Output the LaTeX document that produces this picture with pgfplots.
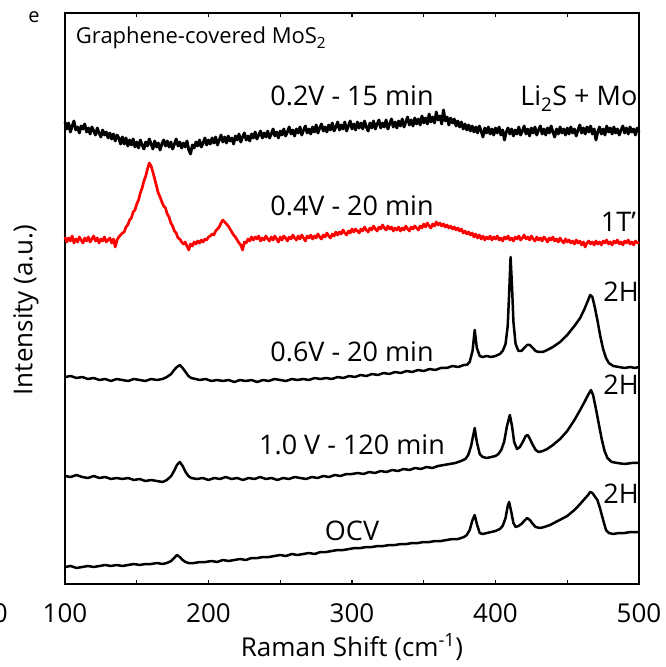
\documentclass[border=0pt]{standalone}
\usepackage{fontspec}
\setmainfont{Open Sans}
\usepackage{pgfplots}
\pgfplotsset{compat=1.18}
\definecolor{spred}{RGB}{255,0,0}
\newcommand{\lab}{\fontsize{27}{32}\selectfont}
\begin{document}
\begin{tikzpicture}[x=1pt,y=1pt]
\useasboundingbox (-65,-83) rectangle (601,584);
\begin{axis}[at={(0,0)}, anchor=south west, width=574pt, height=571pt, scale only axis,
  xmin=100, xmax=500, ymin=0, ymax=571,
  xtick={100,200,300,400,500}, minor xtick={150,250,350,450}, ytick=\empty,
  tick align=inside, major tick length=4pt, minor tick length=4pt,
  every tick/.style={line width=1.4pt, black},
  axis line style={line width=1.8pt},
  /pgf/number format/assume math mode=true,
  xticklabel style={font=\fontsize{26}{30}\selectfont, anchor=base, yshift=-38pt},
  every axis plot/.append style={line width=2.5pt, line join=round, mark=none},
  clip=false]
% 0.2V - 15 min
\addplot[black, line width=2.9pt] table {
100 462
101.25 455
102.5 461
103.75 452
105 458
106.25 463
107.5 454
108.75 457
110 451
111.25 458
112.5 455
113.75 460
115 452
116.25 456
117.5 450
118.75 457
120 453
121.25 449
122.5 456
123.75 451
125 447
126.25 454
127.5 449
128.75 452
130 446
131.25 451
132.5 445
133.75 450
135 443
136.25 449
137.5 446
138.75 440
140 447
141.25 440
142.5 446
143.75 438
145 444
146.25 439
147.5 445
148.75 437
150 442
151.25 436
152.5 444
153.75 439
155 435
156.25 442
157.5 438
158.75 445
160 440
161.25 435
162.5 443
163.75 437
165 441
166.25 434
167.5 440
168.75 444
170 438
171.25 443
172.5 437
173.75 442
175 435
176.25 440
177.5 445
178.75 438
180 442
181.25 436
182.5 441
183.75 437
185 443
186.25 434
187.5 430
188.75 439
190 436
191.25 442
192.5 438
193.75 444
195 437
196.25 441
197.5 446
198.75 439
200 444
201.25 440
202.5 446
203.75 441
205 447
206.25 439
207.5 444
208.75 449
210 442
211.25 447
212.5 441
213.75 448
215 443
216.25 446
217.5 440
218.75 448
220 444
221.25 450
222.5 442
223.75 447
225 451
226.25 444
227.5 448
228.75 443
230 450
231.25 446
232.5 452
233.75 445
235 449
236.25 453
237.5 446
238.75 451
240 447
241.25 453
242.5 446
243.75 450
245 455
246.25 448
247.5 452
248.75 446
250 453
251.25 449
252.5 455
253.75 448
255 452
256.25 457
257.5 450
258.75 454
260 448
261.25 455
262.5 451
263.75 457
265 449
266.25 454
267.5 458
268.75 451
270 455
271.25 450
272.5 457
273.75 452
275 459
276.25 451
277.5 456
278.75 460
280 453
281.25 457
282.5 452
283.75 459
285 454
286.25 461
287.5 453
288.75 457
290 462
291.25 454
292.5 459
293.75 455
295 462
296.25 453
297.5 458
298.75 463
300 455
301.25 460
302.5 454
303.75 462
305 456
306.25 461
307.5 455
308.75 463
310 457
311.25 453
312.5 461
313.75 456
315 463
316.25 455
317.5 460
318.75 464
320 456
321.25 461
322.5 457
323.75 464
325 455
326.25 460
327.5 465
328.75 457
330 462
331.25 456
332.5 463
333.75 458
335 465
336.25 457
337.5 462
338.75 467
340 459
341.25 464
342.5 458
343.75 466
345 460
346.25 465
347.5 459
348.75 468
350 461
351.25 466
352.5 460
353.75 470
355 462
356.25 467
357.5 461
358.75 472
360 464
361.25 468
362.5 460
363.75 474
365 463
366.25 467
367.5 459
368.75 466
370 461
371.25 465
372.5 458
373.75 463
375 457
376.25 462
377.5 455
378.75 460
380 454
381.25 459
382.5 453
383.75 458
385 452
386.25 457
387.5 451
388.75 458
390 453
391.25 447
392.5 456
393.75 451
395 457
396.25 450
397.5 455
398.75 449
400 456
401.25 451
402.5 457
403.75 449
405 454
406.25 444
407.5 452
408.75 456
410 450
411.25 455
412.5 448
413.75 454
415 450
416.25 457
417.5 449
418.75 453
420 458
421.25 450
422.5 455
423.75 448
425 456
426.25 451
427.5 457
428.75 449
430 454
431.25 458
432.5 450
433.75 455
435 449
436.25 456
437.5 451
438.75 458
440 452
441.25 447
442.5 455
443.75 450
445 457
446.25 451
447.5 455
448.75 449
450 456
451.25 450
452.5 457
453.75 451
455 455
456.25 448
457.5 454
458.75 459
460 451
461.25 456
462.5 450
463.75 457
465 452
466.25 458
467.5 450
468.75 455
470 444
471.25 452
472.5 457
473.75 450
475 455
476.25 449
477.5 458
478.75 452
480 456
481.25 450
482.5 457
483.75 451
485 455
486.25 449
487.5 454
488.75 458
490 451
491.25 456
492.5 450
493.75 457
495 452
496.25 455
497.5 449
498.75 456
500 452
};
% 0.4V - 20 min
\addplot[spred, line width=2.7pt] table {
100 347
101.25 342
102.5 346
103.75 343
105 348
106.25 341
107.5 345
108.75 342
110 347
111.25 344
112.5 341
113.75 346
115 343
116.25 347
117.5 342
118.75 345
120 348
121.25 343
122.5 346
123.75 341
125 345
126.25 343
127.5 347
128.75 342
130 344
131.25 346
132.5 341
133.75 345
135 337
136.25 344
137.5 347
138.75 349
140 351
141.25 352
142.5 357
143.75 359
145 364
146.25 366
147.5 372
148.75 374
150 380
151.25 384
152.5 391
153.75 396
155 403
156.25 408
157.5 415
158.75 421
160 418
161.25 412
162.5 405
163.75 398
165 391
166.25 387
167.5 382
168.75 378
170 376
171.25 370
172.5 367
173.75 361
175 358
176.25 353
177.5 351
178.75 346
180 345
181.25 342
182.5 340
183.75 342
185 338
186.25 334
187.5 340
188.75 338
190 342
191.25 340
192.5 343
193.75 341
195 344
196.25 342
197.5 345
198.75 344
200 347
201.25 348
202.5 350
203.75 349
205 353
206.25 355
207.5 357
208.75 361
210 364
211.25 362
212.5 360
213.75 358
215 355
216.25 352
217.5 349
218.75 347
220 344
221.25 341
222.5 339
223.75 334
225 342
226.25 341
227.5 345
228.75 343
230 347
231.25 344
232.5 347
233.75 345
235 348
236.25 343
237.5 346
238.75 344
240 348
241.25 345
242.5 343
243.75 347
245 344
246.25 348
247.5 345
248.75 342
250 347
251.25 344
252.5 348
253.75 346
255 343
256.25 347
257.5 345
258.75 349
260 346
261.25 344
262.5 348
263.75 345
265 349
266.25 346
267.5 343
268.75 348
270 346
271.25 349
272.5 345
273.75 348
275 346
276.25 350
277.5 347
278.75 345
280 349
281.25 347
282.5 351
283.75 348
285 346
286.25 350
287.5 348
288.75 352
290 349
291.25 352
292.5 350
293.75 354
295 351
296.25 349
297.5 353
298.75 351
300 355
301.25 352
302.5 355
303.75 353
305 351
306.25 355
307.5 353
308.75 357
310 354
311.25 352
312.5 356
313.75 354
315 358
316.25 355
317.5 353
318.75 357
320 355
321.25 359
322.5 356
323.75 354
325 358
326.25 355
327.5 357
328.75 353
330 356
331.25 354
332.5 357
333.75 353
335 356
336.25 354
337.5 358
338.75 355
340 353
341.25 357
342.5 355
343.75 358
345 356
346.25 354
347.5 358
348.75 356
350 360
351.25 357
352.5 361
353.75 358
355 356
356.25 360
357.5 358
358.75 362
360 359
361.25 361
362.5 358
363.75 360
365 357
366.25 359
367.5 356
368.75 358
370 355
371.25 357
372.5 354
373.75 356
375 353
376.25 355
377.5 351
378.75 353
380 350
381.25 352
382.5 349
383.75 351
385 347
386.25 350
387.5 346
388.75 349
390 345
391.25 348
392.5 344
393.75 347
395 345
396.25 348
397.5 344
398.75 347
400 345
401.25 348
402.5 344
403.75 346
405 343
406.25 347
407.5 345
408.75 348
410 344
411.25 346
412.5 343
413.75 347
415 345
416.25 348
417.5 344
418.75 346
420 349
421.25 345
422.5 347
423.75 344
425 348
426.25 345
427.5 343
428.75 347
430 344
431.25 346
432.5 343
433.75 347
435 345
436.25 342
437.5 346
438.75 344
440 347
441.25 343
442.5 345
443.75 342
445 346
446.25 343
447.5 341
448.75 345
450 342
451.25 344
452.5 341
453.75 343
455 340
456.25 344
457.5 341
458.75 343
460 339
461.25 342
462.5 337
463.75 341
465 343
466.25 340
467.5 342
468.75 339
470 343
471.25 340
472.5 342
473.75 339
475 343
476.25 341
477.5 344
478.75 340
480 342
481.25 339
482.5 343
483.75 341
485 344
486.25 340
487.5 342
488.75 339
490 343
491.25 341
492.5 344
493.75 340
495 342
496.25 339
497.5 343
498.75 341
500 342
};
% 0.6V - 20 min
\addplot[black] table {
100 207
104 208
108 206
112 207
116 205
120 206
124 204
128 205
132 203
136 205
140 204
144 203
148 205
152 204
156 203
160 205
164 204
168 205
171 207
174 210
176 214
178 217
180 219
182 216
184 212
186 208
188 206
191 205
194 204
198 205
202 203
206 204
210 203
214 204
218 202
222 204
226 203
230 204
234 202
238 204
242 203
246 205
250 204
254 203
258 205
262 204
266 205
270 204
274 206
278 205
282 206
286 205
290 207
294 206
298 208
302 207
306 209
310 208
314 210
318 209
322 211
326 210
330 212
334 211
338 213
342 212
346 214
350 213
354 215
358 214
362 216
366 216
370 218
374 217
378 219
380 219
382 222
384 233
385.5 254
387 236
389 228
391 227
394 228
397 227
400 228
403 230
405 233
407 240
408.5 258
409.5 290
410.5 327
411.5 298
412.5 262
414 240
416 233
418 233
420 236
422 239
424 239
426 236
428 233
430 232
433 232
436 234
440 237
445 242
450 249
455 258
459 266
462 275
464 282
466 289
467.5 287
469 278
471 264
473 248
475 235
477 226
479 221
482 218
486 217
490 216
494 217
497 216
500 217
};
% 1.0 V - 120 min
\addplot[black] table {
100 108
104 107
108 109
112 107
116 106
120 108
124 106
128 107
132 105
136 106
140 105
144 106
148 104
152 105
156 103
160 104
164 103
168 102
171 104
174 108
176 113
178 119
180 122
182 118
184 112
186 108
188 106
192 105
196 106
200 104
204 106
208 105
212 107
216 105
220 106
224 104
228 106
232 105
236 107
240 105
244 106
248 104
252 106
256 105
260 107
264 106
268 105
272 107
276 106
280 108
284 107
288 109
292 108
296 110
300 110
304 111
308 110
312 112
316 111
320 113
324 112
328 114
332 113
336 115
340 114
344 116
348 115
352 117
356 116
360 118
364 119
368 120
372 121
376 123
379 125
381 129
383 138
385.5 156
387 142
389 130
391 127
394 126
397 127
400 128
402 130
404 134
406 142
408 158
410 169
411.5 158
413 142
415 135
417 137
419 142
421 148
422.5 149
424 145
426 139
428 134
430 132
433 133
436 135
440 139
445 145
450 153
455 164
459 174
462 182
464.5 189
466.5 194
468 189
470 175
472 160
474 145
476 133
478 126
481 122
485 121
490 120
495 121
500 121
};
% OCV
\addplot[black] table {
100 17
104 18
108 16
112 17
116 18
120 17
124 18
128 19
132 18
136 19
140 18
144 19
148 20
152 19
156 20
160 20
164 21
168 20
171 21
174 23
176 26
178 29
180 27
182 24
184 22
186 21
190 21
194 22
198 22
202 23
206 22
210 24
214 23
218 24
222 25
226 24
230 26
234 26
238 27
242 27
246 28
250 29
254 28
258 30
262 29
266 30
270 31
274 30
278 32
282 32
286 33
290 34
294 34
298 35
302 36
306 36
310 37
314 37
318 38
322 38
326 39
330 39
334 40
338 40
342 41
346 41
350 42
354 42
358 43
362 43
366 44
370 45
374 45
378 47
380 49
382 54
384 64
385.5 69
387 60
389 51
391 50
394 51
397 52
400 53
403 55
405 58
407 66
408.5 78
409.5 82
411 72
412.5 61
414 57
416 58
418 60
420 63
422 66
424 64
426 60
428 57
431 56
434 57
438 59
442 62
446 65
450 68
455 74
459 80
462 85
464.5 89
466 92
467.5 91
469 88
471 84
473 75
475 64
477 54
479 51
482 50
486 51
490 51
494 52
497 52
500 52
};
\node[anchor=base west, inner sep=0, font=\fontsize{22}{26}\selectfont] at (axis cs:107.5,540) {Graphene-covered MoS\textsubscript{2}};
\node[anchor=base, inner sep=0, font=\lab] at (axis cs:300,478) {0.2V - 15 min};
\node[anchor=base east, inner sep=0, font=\lab] at (axis cs:499,478) {Li\textsubscript{2}S + Mo};
\node[anchor=base, inner sep=0, font=\lab] at (axis cs:300,368) {0.4V - 20 min};
\node[anchor=base east, inner sep=0, font=\lab] at (axis cs:498,352) {1T’};
\node[anchor=base, inner sep=0, font=\lab] at (axis cs:300,222) {0.6V - 20 min};
\node[anchor=base west, inner sep=0, font=\lab] at (axis cs:475,282) {2H};
\node[anchor=base, inner sep=0, font=\lab] at (axis cs:300,129) {1.0 V - 120 min};
\node[anchor=base west, inner sep=0, font=\lab] at (axis cs:475,189) {2H};
\node[anchor=base, inner sep=0, font=\lab] at (axis cs:300,44) {OCV};
\node[anchor=base west, inner sep=0, font=\lab] at (axis cs:475,81) {2H};
\end{axis}
\node[font=\fontsize{20}{24}\selectfont] at (-31,567) {e};
\node[rotate=90, font=\fontsize{26}{30}\selectfont] at (-39,274) {Intensity (a.u.)};
\node[anchor=base, inner sep=0, font=\fontsize{26}{30}\selectfont] at (287,-72) {Raman Shift (cm\textsuperscript{-1})};
\node[anchor=base east, inner sep=0, font=\fontsize{26}{30}\selectfont] at (-57,-38) {0};
\end{tikzpicture}
\end{document}
